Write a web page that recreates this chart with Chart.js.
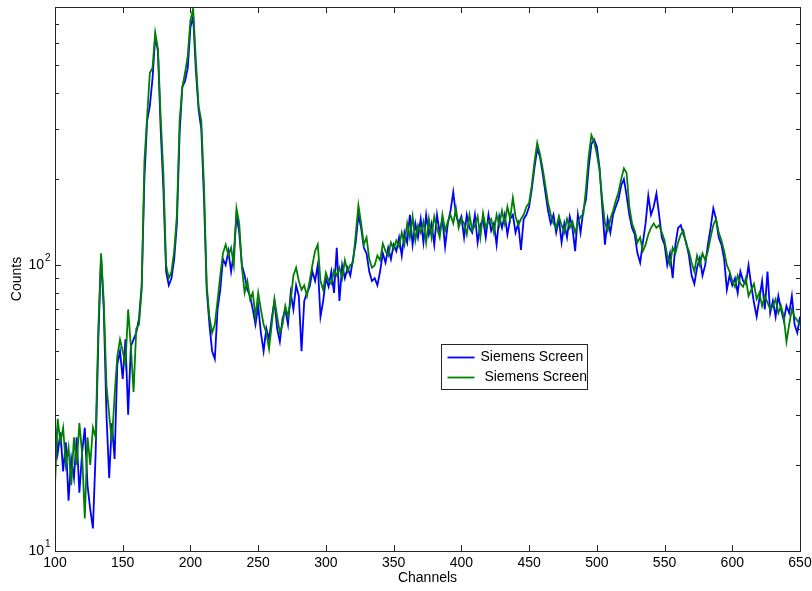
<!DOCTYPE html>
<html>
<head>
<meta charset="utf-8">
<script src="https://cdn.jsdelivr.net/npm/chart.js@4.4.1/dist/chart.umd.min.js"></script>
<style>
  html, body { margin:0; padding:0; background:#fff; }
  canvas { display:block; }
</style>
</head>
<body>
<canvas id="spec" width="812" height="591"></canvas>
<script>
// ---- data (every 2nd channel) ---------------------------------------------
const channels = [];
for (let c = 100; c <= 650; c += 2) channels.push(c);

const blueCounts = [
  // 100-128
  28,22,26,19,24,15,21,18,25,16,22,27,17,14,12,
  // 130-164
  22,55,108,70,30,18,28,21,45,50,40,55,30,52,55,58,65,85,
  // 166-210
  200,320,360,450,630,560,300,185,95,85,90,105,140,290,420,440,490,680,740,480,350,300,170,
  // 212-300
  82,62,50,47,70, 82,105,100,112,95, 110,150,130,100,92, 82,78,70,62,72,
  58,50,60,55,65, 75,60,54,65,70, 62,80,70,85,78, 50,75,80,84,95, 88,100,66,75,90,
  // 302-400
  84,95,80,115,75, 100,90,98,92,105, 120,150,135,115,110, 95,88,90,85,95,
  110,102,115,105,118, 112,125,108,130,120, 150,118,140,125,145, 120,150,128,140,118,
  150,130,145,116,140, 155,180,150,140,148,
  // 402-500
  125,150,135,130,150, 120,138,145,125,150, 132,140,118,148,135, 150,128,145,150,130,
  140,113,145,150,160, 185,220,255,240,210, 180,155,140,150,130, 145,120,140,125,148,
  135,112,150,130,155, 170,220,265,275,260,
  // 502-600
  220,160,118,145,130, 150,160,170,190,200, 175,150,135,128,110, 102,120,140,175,150,
  160,178,150,125,118, 100,110,90,118,135, 138,128,120,108,92, 86,98,106,92,100,
  118,135,158,145,125, 118,105,82,92,85,
  // 602-650
  90,80,95,88,86, 100,85,74,66,76, 88,70,95,68,75, 66,78,70,64,72, 68,78,62,58,66
];

const greenCounts = [
  // 100-128
  17,29,24,27,20,23,17,25,20,28,22,13,25,20,27,
  // 130-164
  25,60,110,75,38,30,24,35,48,55,50,45,70,52,36,60,62,82,
  // 166-210
  230,330,470,490,650,570,330,210,100,90,95,112,150,320,420,470,540,720,790,520,360,320,190,
  // 212-300
  85,66,58,62,75, 92,110,118,108,115, 100,158,140,98,80, 88,76,80,66,80,
  70,62,58,51,62, 76,66,58,62,72, 66,75,92,98,88, 82,85,78,88,100, 112,118,88,82,94,
  // 302-400
  88,86,96,92,98, 90,104,95,100,102, 128,162,140,118,125, 105,98,100,108,104,
  119,112,108,120,114, 122,116,130,118,140, 125,148,122,138,130, 142,120,145,125,148,
  135,125,150,132,142, 150,140,158,135,145,
  // 402-500
  140,128,150,132,138, 148,125,152,135,142, 145,130,150,138,155, 140,160,145,172,148,
  138,145,150,160,165, 190,230,268,245,218, 190,165,150,140,135, 148,138,130,145,135,
  142,130,140,148,150, 185,240,285,270,245,
  // 502-600
  215,170,140,132,145, 155,168,180,200,218, 210,160,140,132,120, 125,112,118,128,135,
  140,135,138,130,122, 108,100,115,110,120, 128,132,118,112,102, 95,108,100,110,104,
  112,125,138,145,130, 122,112,100,95,88,
  // 602-650
  84,92,86,84,90, 78,82,86,76,80, 72,78,74,70,72, 76,68,72,66,54, 62,70,66,64,62
];

const seriesLabels = ['Siemens Screen', ' Siemens Screen'];
const seriesColors = ['#0000ff', '#008000'];

const xTicks = [100, 150, 200, 250, 300, 350, 400, 450, 500, 550, 600, 650];
const yMajor = [10, 100];
const yMinor = [20, 30, 40, 50, 60, 70, 80, 90, 200, 300, 400, 500, 600, 700, 800];

const FONT = '"Liberation Sans", Arial, Helvetica, sans-serif';
const AXIS = '#262626';

// ---- MATLAB-like axes: box, inward ticks, 10^n labels, legend --------------
const matlabAxes = {
  id: 'matlabAxes',
  afterDatasetsDraw(chart) {
    const { ctx, chartArea: a, scales: { x, y } } = chart;
    ctx.save();
    ctx.strokeStyle = AXIS;
    ctx.lineWidth = 1;
    ctx.strokeRect(a.left + 0.5, a.top + 0.5, a.right - a.left, a.bottom - a.top);

    ctx.beginPath();
    xTicks.forEach(v => {
      const px = Math.round(x.getPixelForValue(v)) + 0.5;
      ctx.moveTo(px, a.bottom); ctx.lineTo(px, a.bottom - 6);
      ctx.moveTo(px, a.top);    ctx.lineTo(px, a.top + 6);
    });
    const yTick = (v, len) => {
      const py = Math.round(y.getPixelForValue(v)) + 0.5;
      ctx.moveTo(a.left, py);  ctx.lineTo(a.left + len, py);
      ctx.moveTo(a.right, py); ctx.lineTo(a.right - len, py);
    };
    yMajor.forEach(v => yTick(v, 6));
    yMinor.forEach(v => yTick(v, 4));
    ctx.stroke();

    // decade labels with superscript exponent
    ctx.fillStyle = '#000';
    ctx.textBaseline = 'middle';
    yMajor.forEach(v => {
      const py = y.getPixelForValue(v);
      ctx.font = '14px ' + FONT;
      ctx.textAlign = 'right';
      ctx.fillText('10', a.left - 11, py);
      ctx.font = '10px ' + FONT;
      ctx.textAlign = 'left';
      ctx.fillText(String(Math.round(Math.log10(v))), a.left - 10, py - 7);
    });

    // legend box inside the axes
    const w = a.right - a.left, h = a.bottom - a.top;
    const bx = Math.round(a.left + 0.518 * w) + 0.5;
    const by = Math.round(a.top + 0.62 * h) + 0.5;
    const bw = 146, bh = 45;
    ctx.fillStyle = '#fff';
    ctx.fillRect(bx, by, bw, bh);
    ctx.strokeStyle = AXIS;
    ctx.strokeRect(bx, by, bw, bh);
    chart.data.datasets.forEach((ds, i) => {
      const ry = by + 13 + i * 20;
      ctx.strokeStyle = ds.borderColor;
      ctx.lineWidth = 1.8;
      ctx.beginPath();
      ctx.moveTo(bx + 6, ry); ctx.lineTo(bx + 33, ry);
      ctx.stroke();
      ctx.fillStyle = '#000';
      ctx.font = '14px ' + FONT;
      ctx.textAlign = 'left';
      ctx.fillText(ds.label, bx + 39, ry);
    });
    ctx.restore();
  }
};

const toPoints = vals => vals.map((v, i) => ({ x: channels[i], y: v }));

new Chart(document.getElementById('spec'), {
  type: 'line',
  data: {
    datasets: [
      { label: seriesLabels[0], data: toPoints(blueCounts), borderColor: seriesColors[0],
        borderWidth: 1.8, pointRadius: 0, tension: 0, order: 1 },
      { label: seriesLabels[1], data: toPoints(greenCounts), borderColor: seriesColors[1],
        borderWidth: 1.8, pointRadius: 0, tension: 0, order: 0 }
    ]
  },
  options: {
    responsive: false,
    animation: false,
    events: [],
    layout: { padding: { top: 7, right: 12, left: 0, bottom: 0 } },
    plugins: { legend: { display: false }, tooltip: { enabled: false } },
    scales: {
      x: {
        type: 'linear', min: 100, max: 650,
        // tick marks are drawn by the plugin; tickLength only spaces the labels
        grid: { display: false, drawTicks: true, tickLength: 4 },
        border: { display: false },
        ticks: { stepSize: 50, color: '#000', padding: 0, maxRotation: 0,
                 font: { family: FONT, size: 14 } },
        title: { display: true, text: 'Channels', color: '#000',
                 font: { family: FONT, size: 14 }, padding: { top: 0, bottom: 4 } },
        afterFit(scale) { scale.height = 40; }
      },
      y: {
        type: 'logarithmic', min: 10, max: 800,
        grid: { display: false, drawTicks: false },
        border: { display: false },
        ticks: { display: false },
        title: { display: true, text: 'Counts', color: '#000',
                 font: { family: FONT, size: 14 }, padding: { top: 9, bottom: 0 } },
        afterFit(scale) { scale.width = 55; }
      }
    }
  },
  plugins: [matlabAxes]
});
</script>
</body>
</html>
